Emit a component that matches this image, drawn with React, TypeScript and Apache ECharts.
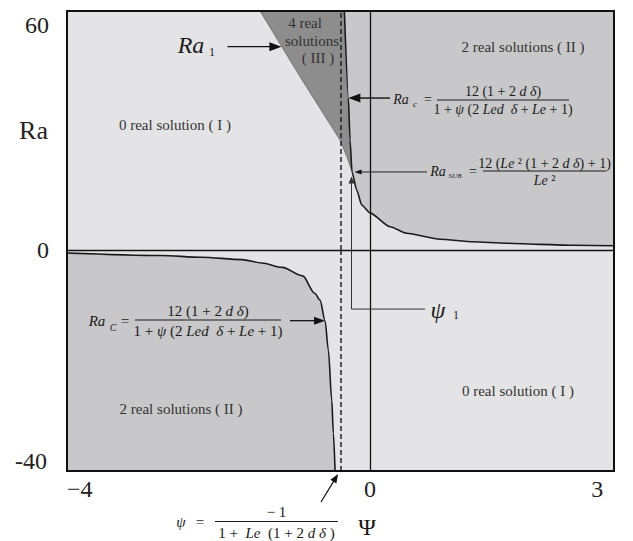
import React, { useEffect, useRef } from 'react';
import * as echarts from 'echarts';

// ---- data ----
const xTickValues = [-4, 0, 3];
const upperTickValues = [0, 60];
const lowerTickValues = [-40];

const psiMin = -4;
const psiMax = 3.22;
const raUpperMax = 63.7;
const raLowerMin = -41.9;

// Ra_c branch for psi > asymptote (upper right)
const upperCurvePsi = [-0.339, -0.286, -0.264, -0.238, -0.176, -0.11, 0, 0.264, 0.484, 0.924, 1.36, 1.8, 2.24, 2.68, 3.22];
const upperCurveRa = [63.7, 40.5, 29.3, 20.8, 16.0, 12.0, 9.9, 6.2, 4.45, 2.85, 2.2, 1.8, 1.5, 1.25, 1.15];

// Ra_1 boundary (left edge of region III)
const ra1Psi = [-1.452, -0.924, -0.396, -0.304, -0.238];
const ra1Ra = [63.7, 46.2, 29.3, 24.8, 20.8];

// Ra_c branch for psi < asymptote (lower left)
const lowerCurvePsi = [-4.0, -2.76, -2.23, -1.69, -1.43, -1.16, -0.89, -0.73, -0.66, -0.594, -0.55, -0.506, -0.484, -0.462];
const lowerCurveRa = [-0.57, -1.04, -1.37, -1.82, -2.46, -3.3, -4.9, -8.2, -9.5, -13.4, -19.0, -28.4, -34.7, -41.9];

const psiAsymptote = -0.389;
const psi1 = -0.245;
const raSub = 20.8;

const LIGHT = '#e4e4e6';
const MID = '#c8c8ca';
const DARK = '#8d8d8d';
const FONT = "'Liberation Serif', 'DejaVu Serif', serif";
const INK = '#1a1a1a';

const pairs = (xs: number[], ys: number[]) => xs.map((x, i) => [x, ys[i]]);

function arrow(x1: number, y1: number, x2: number, y2: number, len = 10, half = 4, width = 1.2, color = '#111') {
  const dx = x2 - x1, dy = y2 - y1;
  const d = Math.hypot(dx, dy) || 1;
  const ux = dx / d, uy = dy / d;
  const bx = x2 - ux * len, by = y2 - uy * len;
  return [
    { type: 'line', silent: true, z: 20, shape: { x1, y1, x2: bx + ux * 1, y2: by + uy * 1 }, style: { stroke: color, lineWidth: width } },
    { type: 'polygon', silent: true, z: 20, shape: { points: [[x2, y2], [bx - uy * half, by + ux * half], [bx + uy * half, by - ux * half]] }, style: { fill: color } },
  ];
}

const rich = (size: number) => ({
  i: { fontStyle: 'italic', fontFamily: FONT, fontSize: size, fill: INK },
});

function txt(x: number, y: number, text: string, size: number, opts: any = {}) {
  return {
    type: 'text', x, y, z: 20, silent: true,
    style: {
      text, fontFamily: FONT, fontSize: size, fill: opts.fill || INK,
      fontStyle: opts.italic ? 'italic' : 'normal',
      align: opts.align || 'center', verticalAlign: 'middle',
      rich: rich(size),
    },
  };
}

function frac(x1: number, x2: number, y: number, num: string, den: string, size: number, gapUp: number, gapDown: number) {
  const cx = (x1 + x2) / 2;
  return [
    { type: 'line', silent: true, z: 20, shape: { x1, y1: y, x2, y2: y }, style: { stroke: INK, lineWidth: 1 } },
    txt(cx, y - gapUp, num, size),
    txt(cx, y + gapDown, den, size),
  ];
}

export default function App() {
  const ref = useRef<HTMLDivElement>(null);

  useEffect(() => {
    if (!ref.current) return;
    const chart = echarts.init(ref.current, undefined, { renderer: 'svg' });

    const tickLabel = {
      fontFamily: FONT, fontSize: 24, color: '#222',
    };

    const option: any = {
      animation: false,
      backgroundColor: '#ffffff',
      grid: [
        { left: 67, top: 11, width: 547, height: 239, show: true, backgroundColor: LIGHT, borderWidth: 0, outerBoundsMode: 'none', containLabel: false },
        { left: 67, top: 250, width: 547, height: 221, show: true, backgroundColor: LIGHT, borderWidth: 0, outerBoundsMode: 'none', containLabel: false },
        { left: 67, top: 11, width: 547, height: 460, show: true, backgroundColor: 'transparent', borderColor: '#111', borderWidth: 2, z: 10, outerBoundsMode: 'none', containLabel: false },
      ],
      xAxis: [
        { gridIndex: 0, type: 'value', min: psiMin, max: psiMax, show: false },
        {
          gridIndex: 1, type: 'value', min: psiMin, max: psiMax,
          axisLine: { show: false }, axisTick: { show: false }, splitLine: { show: false },
          axisLabel: {
            ...tickLabel, margin: 6, customValues: xTickValues,
            alignMinLabel: 'left',
            formatter: (v: number) => (v < 0 ? '\u2212' + Math.abs(v) : String(v)),
          },
        },
        { gridIndex: 2, type: 'value', min: psiMin, max: psiMax, show: false },
      ],
      yAxis: [
        {
          gridIndex: 0, type: 'value', min: 0, max: raUpperMax,
          axisLine: { show: false }, axisTick: { show: false }, splitLine: { show: false },
          axisLabel: { ...tickLabel, margin: 18, customValues: upperTickValues },
          name: 'Ra', nameLocation: 'middle', nameRotate: 0, nameGap: 19, nameMoveOverlap: false,
          nameTextStyle: { fontFamily: FONT, fontSize: 26, color: '#222' },
        },
        {
          gridIndex: 1, type: 'value', min: raLowerMin, max: 0,
          axisLine: { show: false }, axisTick: { show: false }, splitLine: { show: false },
          axisLabel: { ...tickLabel, margin: 20, customValues: lowerTickValues },
        },
        { gridIndex: 2, type: 'value', min: 0, max: 1, show: false },
      ],
      series: [
        {
          name: 'Ra1', type: 'line', xAxisIndex: 0, yAxisIndex: 0, z: 2,
          data: pairs(ra1Psi, ra1Ra), symbol: 'none',
          lineStyle: { color: '#666', width: 0.8 },
          areaStyle: { color: DARK, opacity: 1, origin: 'end' },
        },
        {
          name: 'Ra_c upper', type: 'line', xAxisIndex: 0, yAxisIndex: 0, z: 3,
          data: pairs(upperCurvePsi, upperCurveRa), symbol: 'none',
          smooth: 0.2, smoothMonotone: 'x',
          lineStyle: { color: INK, width: 1.6 },
          areaStyle: { color: MID, opacity: 1, origin: 'end' },
          markLine: {
            silent: true, symbol: 'none', label: { show: false }, animation: false, z: 6,
            data: [
              { xAxis: 0, lineStyle: { color: '#111', width: 1.3, type: 'solid' } },
              { xAxis: psiAsymptote, lineStyle: { color: '#222', width: 1.5, type: [5, 3] } },
              { yAxis: 0, lineStyle: { color: '#111', width: 1.3, type: 'solid' } },
            ],
          },
        },
        {
          name: 'Ra_c lower', type: 'line', xAxisIndex: 1, yAxisIndex: 1, z: 3,
          data: pairs(lowerCurvePsi, lowerCurveRa), symbol: 'none',
          smooth: 0.3, smoothMonotone: 'x',
          lineStyle: { color: INK, width: 1.6 },
          areaStyle: { color: MID, opacity: 1, origin: 'start' },
          markLine: {
            silent: true, symbol: 'none', label: { show: false }, animation: false, z: 6,
            data: [
              { xAxis: 0, lineStyle: { color: '#111', width: 1.3, type: 'solid' } },
              { xAxis: psiAsymptote, lineStyle: { color: '#222', width: 1.5, type: [5, 3] } },
            ],
          },
        },
      ],
    };

    chart.setOption(option);

    const up = (p: number[]) => chart.convertToPixel({ xAxisIndex: 0, yAxisIndex: 0 }, p) as number[];
    const lo = (p: number[]) => chart.convertToPixel({ xAxisIndex: 1, yAxisIndex: 1 }, p) as number[];

    const g: any[] = [];
    // Ra_1 arrow
    const tRa1 = up([-1.17, 54.2]);
    g.push(...arrow(tRa1[0] - 54, tRa1[1], tRa1[0], tRa1[1], 12, 4.5, 1.4));
    g.push(txt(191, 45, 'Ra', 24, { italic: true }));
    g.push(txt(212, 52, '1', 12));

    // upper Ra_c arrow + formula
    const tUp = up([-0.286, 40.5]);
    g.push(...arrow(390, tUp[1], tUp[0], tUp[1], 12, 4.5, 1.4));
    g.push(txt(401, 99, 'Ra', 14, { italic: true }));
    g.push(txt(415, 104, 'c', 9, { italic: true }));
    g.push(txt(428, 99, '=', 14));
    g.push(...frac(437, 569, 100, '12 (1 + 2 {i|d δ})', '1 + {i|ψ} (2 {i|Led  δ} + {i|Le} + 1)', 14, 9, 9));

    // Ra_SUB arrow + formula
    const tSub = up([psi1 + 0.04, raSub]);
    g.push(...arrow(427, tSub[1], tSub[0], tSub[1], 7, 2.5, 0.9));
    g.push(txt(438, 171, 'Ra', 14, { italic: true }));
    g.push(txt(455, 176, 'SUB', 7, { italic: true }));
    g.push(txt(473, 171, '=', 14));
    g.push(...frac(483, 606, 171, '12 ({i|Le} ² (1 + 2 {i|d δ}) + 1)', '{i|Le} ²', 14, 8, 9));

    // psi_1 marker
    const pTop = up([psi1, raSub - 1.2]);
    const pCorner = lo([psi1, -11.2]);
    const pEnd = lo([0.726, -11.2]);
    g.push({
      type: 'polyline', silent: true, z: 20,
      shape: { points: [[pEnd[0], pEnd[1]], [pCorner[0], pCorner[1]], [pTop[0], pTop[1] + 6]] },
      style: { stroke: '#333', lineWidth: 1, fill: null },
    });
    g.push(...arrow(pTop[0], pTop[1] + 8, pTop[0], pTop[1], 7, 3, 1, '#333'));
    g.push(txt(438, 310, 'ψ', 24, { italic: true }));
    g.push(txt(456, 315, '1', 12));

    // lower Ra_c arrow + formula
    const tLo = lo([-0.594, -13.4]);
    g.push(...arrow(290, tLo[1], tLo[0], tLo[1], 11, 4, 1.3));
    g.push(txt(97, 321, 'Ra', 15, { italic: true }));
    g.push(txt(113, 327, 'C', 10, { italic: true }));
    g.push(txt(125, 321, '=', 15));
    g.push(...frac(135, 281, 320, '12 (1 + 2 {i|d δ})', '1 + {i|ψ} (2 {i|Led  δ} + {i|Le} + 1)', 15, 9, 11));

    // psi asymptote arrow + formula below axis
    const bottomDash = lo([psiAsymptote, raLowerMin]);
    g.push(...arrow(321, 502, bottomDash[0] - 2.5, bottomDash[1] + 3, 9, 3.5, 1.2));
    g.push(txt(181, 522, 'ψ', 15, { italic: true }));
    g.push(txt(200, 522, '=', 15));
    g.push(...frac(215, 338, 521.5, '− 1', '1 +  {i|Le}  (1 + 2 {i|d δ} )', 15, 10, 11));
    g.push(txt(367, 527, 'Ψ', 24));

    // region labels
    const reg = { fill: '#333' };
    g.push(txt(175, 125, '0 real solution ( I )', 15, reg));
    g.push(txt(523, 47, '2 real solutions ( II )', 15, reg));
    g.push(txt(181, 409, '2 real solutions ( II )', 15, reg));
    g.push(txt(518, 391, '0 real solution ( I )', 15, reg));
    g.push(txt(305, 23, '4 real', 15, reg));
    g.push(txt(312, 41, 'solutions', 15, reg));
    g.push(txt(318, 58, '( III )', 15, reg));

    chart.setOption({ graphic: g });

    return () => chart.dispose();
  }, []);

  return <div ref={ref} style={{ position: 'fixed', left: 0, top: 0, width: 633, height: 541 }} />;
}
